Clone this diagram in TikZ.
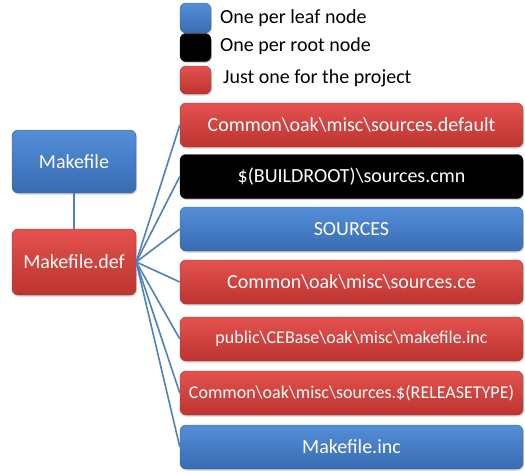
\documentclass[tikz,border=0pt]{standalone}
\usepackage{fontspec}
\setmainfont{Carlito}
\usetikzlibrary{shadows}
\definecolor{bluetop}{RGB}{84,142,216}
\definecolor{bluebot}{RGB}{56,108,178}
\definecolor{blueedge}{RGB}{60,100,160}
\definecolor{redtop}{RGB}{228,82,78}
\definecolor{redbot}{RGB}{188,52,48}
\definecolor{rededge}{RGB}{170,55,50}
\definecolor{linkblue}{RGB}{79,129,189}
\tikzset{
	box/.style={rounded corners=6pt, minimum height=44pt, text=white, inner sep=0pt,
		font=\fontsize{20}{24}\selectfont, drop shadow={opacity=0.35, shadow xshift=1pt, shadow yshift=-1.5pt}},
	bluebox/.style={box, top color=bluetop, bottom color=bluebot, draw=blueedge},
	redbox/.style={box, top color=redtop, bottom color=redbot, draw=rededge},
	blackbox/.style={box, fill=black, draw=black},
	keybox/.style={minimum width=31pt, minimum height=29pt, rounded corners=5pt, text=white, inner sep=0pt},
	keytext/.style={anchor=west, font=\fontsize{20}{24}\selectfont, inner sep=0pt},
	link/.style={draw=linkblue, line width=1.6pt},
	small/.style={font=\fontsize{18}{22}\selectfont}
}
\begin{document}
\begin{tikzpicture}[x=1pt, y=-1pt]
			\useasboundingbox (0,0) rectangle (525,472);
			%legend
			\node[keybox, bluebox, minimum height=30pt, minimum width=31pt] (kblue) at (195.5,18) {};
			\node[keybox, blackbox, minimum height=28pt, minimum width=31pt] (kblack) at (195.5,47.5) {};
			\node[keybox, redbox, minimum height=28pt, minimum width=31pt] (kred) at (195.5,80) {};
			\node[keytext] (tblue) at (220,18) {One per leaf node};
			\node[keytext] (tblack) at (220,46) {One per root node};
			\node[keytext] (tred) at (223,78) {Just one for the project};
			%left side
			\node[bluebox, minimum width=124pt, minimum height=63pt] (mk) at (74,161.5) {Makefile};
			\node[redbox, minimum width=124pt, minimum height=66pt] (def) at (74,262) {Makefile.def};
			%right side
			\node[redbox, minimum width=343pt] (s1) at (351.5,125) {Common\textbackslash oak\textbackslash misc\textbackslash sources.default};
			\node[blackbox, minimum width=343pt] (s2) at (351.5,176.5) {\$(BUILDROOT)\textbackslash sources.cmn};
			\node[bluebox, minimum width=343pt] (s3) at (351.5,229) {SOURCES};
			\node[redbox, minimum width=343pt] (s4) at (351.5,282) {Common\textbackslash oak\textbackslash misc\textbackslash sources.ce};
			\node[redbox, small, minimum width=343pt] (s5) at (351.5,339) {public\textbackslash CEBase\textbackslash oak\textbackslash misc\textbackslash makefile.inc};
			\node[redbox, small, minimum width=343pt] (s6) at (351.5,393) {Common\textbackslash oak\textbackslash misc\textbackslash sources.\$(RELEASETYPE)};
			\node[bluebox, minimum width=343pt] (s7) at (351.5,447) {Makefile.inc};
			%connectors
			\draw[link] (mk.south) -- (def.north);
			\foreach \s in {s1,s2,s3,s4,s5,s6,s7}
				\draw[link] (def.east) -- (\s.west);
\end{tikzpicture}
\end{document}
